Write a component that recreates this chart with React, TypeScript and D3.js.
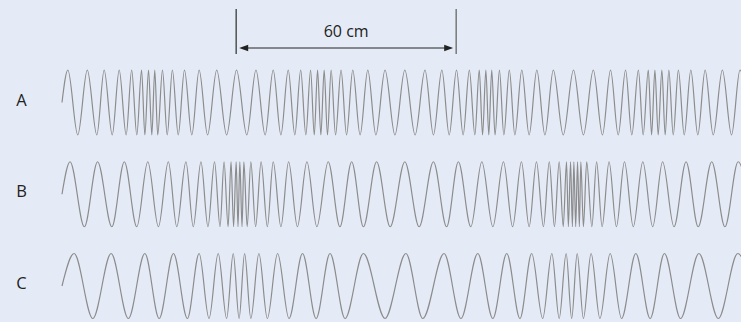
import React from 'react';
import * as d3 from 'd3';

// positions along the wave in cm (0 = left end of each trace)
const rows = ['A', 'B', 'C'];

const crestsA = [1.6, 6.9, 11.5, 15.6, 19.0, 21.7, 23.6, 25.3, 27.4, 30.1, 33.4, 37.4, 42.2, 47.6, 52.9, 57.6, 61.7, 65.1, 67.8, 69.7, 71.5, 73.4, 76.1, 79.3, 83.4, 88.1, 93.5, 99.0, 103.6, 107.6, 111.1, 113.8, 115.6, 117.2, 119.3, 122.0, 125.4, 129.5, 134.0, 139.5, 144.9, 149.6, 153.7, 157.2, 159.9, 161.7, 163.6, 165.5, 168.1, 171.5, 175.4, 180.1, 184.9];
const troughsA = [4.3, 9.5, 13.7, 17.5, 20.4, 22.6, 24.5, 26.1, 28.7, 31.7, 35.4, 39.7, 44.9, 50.4, 55.4, 59.7, 63.5, 66.5, 68.8, 70.6, 72.4, 74.6, 77.6, 81.3, 85.6, 90.8, 96.3, 101.3, 105.6, 109.4, 112.6, 114.7, 116.4, 118.1, 120.5, 123.5, 127.4, 131.7, 136.7, 142.2, 147.4, 151.7, 155.4, 158.5, 160.8, 162.6, 164.5, 166.7, 169.7, 173.4, 177.6, 182.6, 187.6];

const crestsB = [2.2, 9.7, 17.0, 23.4, 29.0, 33.8, 37.9, 41.6, 44.2, 46.1, 47.5, 48.5, 49.6, 51.5, 54.3, 57.6, 61.8, 66.8, 72.6, 79.0, 85.8, 93.5, 101.3, 108.1, 114.5, 120.4, 125.3, 129.4, 132.9, 135.6, 137.6, 138.7, 139.6, 140.6, 141.5, 143.1, 145.8, 149.2, 153.4, 158.4, 163.8, 170.2, 177.2, 184.4];
const troughsB = [6.1, 13.6, 20.4, 26.3, 31.3, 35.8, 39.8, 43.1, 45.3, 46.8, 48.0, 49.1, 50.5, 52.8, 56.0, 59.7, 64.2, 69.5, 75.8, 82.2, 89.5, 97.4, 104.9, 111.5, 117.5, 122.9, 127.4, 131.3, 134.3, 136.7, 138.1, 139.2, 140.1, 141.1, 142.2, 144.5, 147.3, 151.2, 155.8, 161.1, 166.9, 173.5, 180.8, 188.2];

const crestsC = [3.3, 13.4, 22.6, 30.4, 37.4, 42.6, 46.7, 49.8, 53.7, 58.8, 65.6, 73.1, 82.2, 93.8, 104.2, 113.4, 121.3, 128.1, 133.6, 137.5, 140.5, 144.3, 149.5, 156.5, 164.3, 173.7, 184.3];
const troughsC = [8.4, 18.1, 26.5, 34.2, 40.1, 44.9, 48.3, 51.5, 56.0, 61.9, 69.3, 77.2, 88.1, 98.4, 108.8, 117.5, 124.9, 131.1, 135.6, 139.0, 142.2, 146.7, 152.6, 160.4, 168.7, 179.0, 189.5];

const crests = [crestsA, crestsB, crestsC];
const troughs = [troughsA, troughsB, troughsC];

// the measured span shown above trace A
const spanStart = 47.5;
const spanLength = 60;
const spanLabel = '60 cm';

const W = 741;
const H = 322;
const FONT = '"Open Sans", "Noto Sans", sans-serif';

type Pt = { x: number; v: number };

const App: React.FC = () => {
  const x = d3.scaleLinear().domain([0, spanLength]).range([62, 282]);
  const rowY = d3.scalePoint<string>().domain(rows).range([102.5, 286]);
  const amp = 32.5;

  const traces = rows.map((r, i) => {
    const pts: Pt[] = [{ x: 0, v: 0 }]
      .concat(crests[i].map(c => ({ x: c, v: 1 })))
      .concat(troughs[i].map(t => ({ x: t, v: -1 })))
      .sort((a, b) => a.x - b.x);
    const cy = rowY(r) as number;
    const y = d3.scaleLinear().domain([-1, 1]).range([cy + amp, cy - amp]);
    const line = d3.line<Pt>().x(d => x(d.x)).y(d => y(d.v)).curve(d3.curveMonotoneX);
    return { r, cy, d: line(pts) || '' };
  });

  const x0 = x(spanStart);
  const x1 = x(spanStart + spanLength);
  const arrowY = 48;

  return (
    <svg width={W} height={H} style={{ position: 'absolute', left: 0, top: 0, display: 'block' }}>
      <rect width={W} height={H} fill="#e5ebf6" />

      {/* dimension arrow */}
      <line x1={x0} x2={x0} y1={9} y2={54} stroke="#3a3a3a" strokeWidth={1.3} />
      <line x1={x1} x2={x1} y1={9} y2={54} stroke="#666" strokeWidth={1.3} />
      <line x1={x0 + 6} x2={x1 - 6} y1={arrowY} y2={arrowY} stroke="#222" strokeWidth={1} />
      <path d={`M${x0 + 3},${arrowY} L${x0 + 12},${arrowY - 3.2} L${x0 + 12},${arrowY + 3.2} Z`} fill="#222" />
      <path d={`M${x1 - 3},${arrowY} L${x1 - 12},${arrowY - 3.2} L${x1 - 12},${arrowY + 3.2} Z`} fill="#222" />
      <text x={(x0 + x1) / 2} y={37} textAnchor="middle" fontFamily={FONT} fontSize={16} fill="#222">
        {spanLabel}
      </text>

      {traces.map(t => (
        <g key={t.r}>
          <text x={21.5} y={t.cy + 3} textAnchor="middle" fontFamily={FONT} fontSize={16.5} fill="#222">
            {t.r}
          </text>
          <path d={t.d} fill="none" stroke="#8c8c8c" strokeWidth={1.2} />
        </g>
      ))}
    </svg>
  );
};

export default App;
